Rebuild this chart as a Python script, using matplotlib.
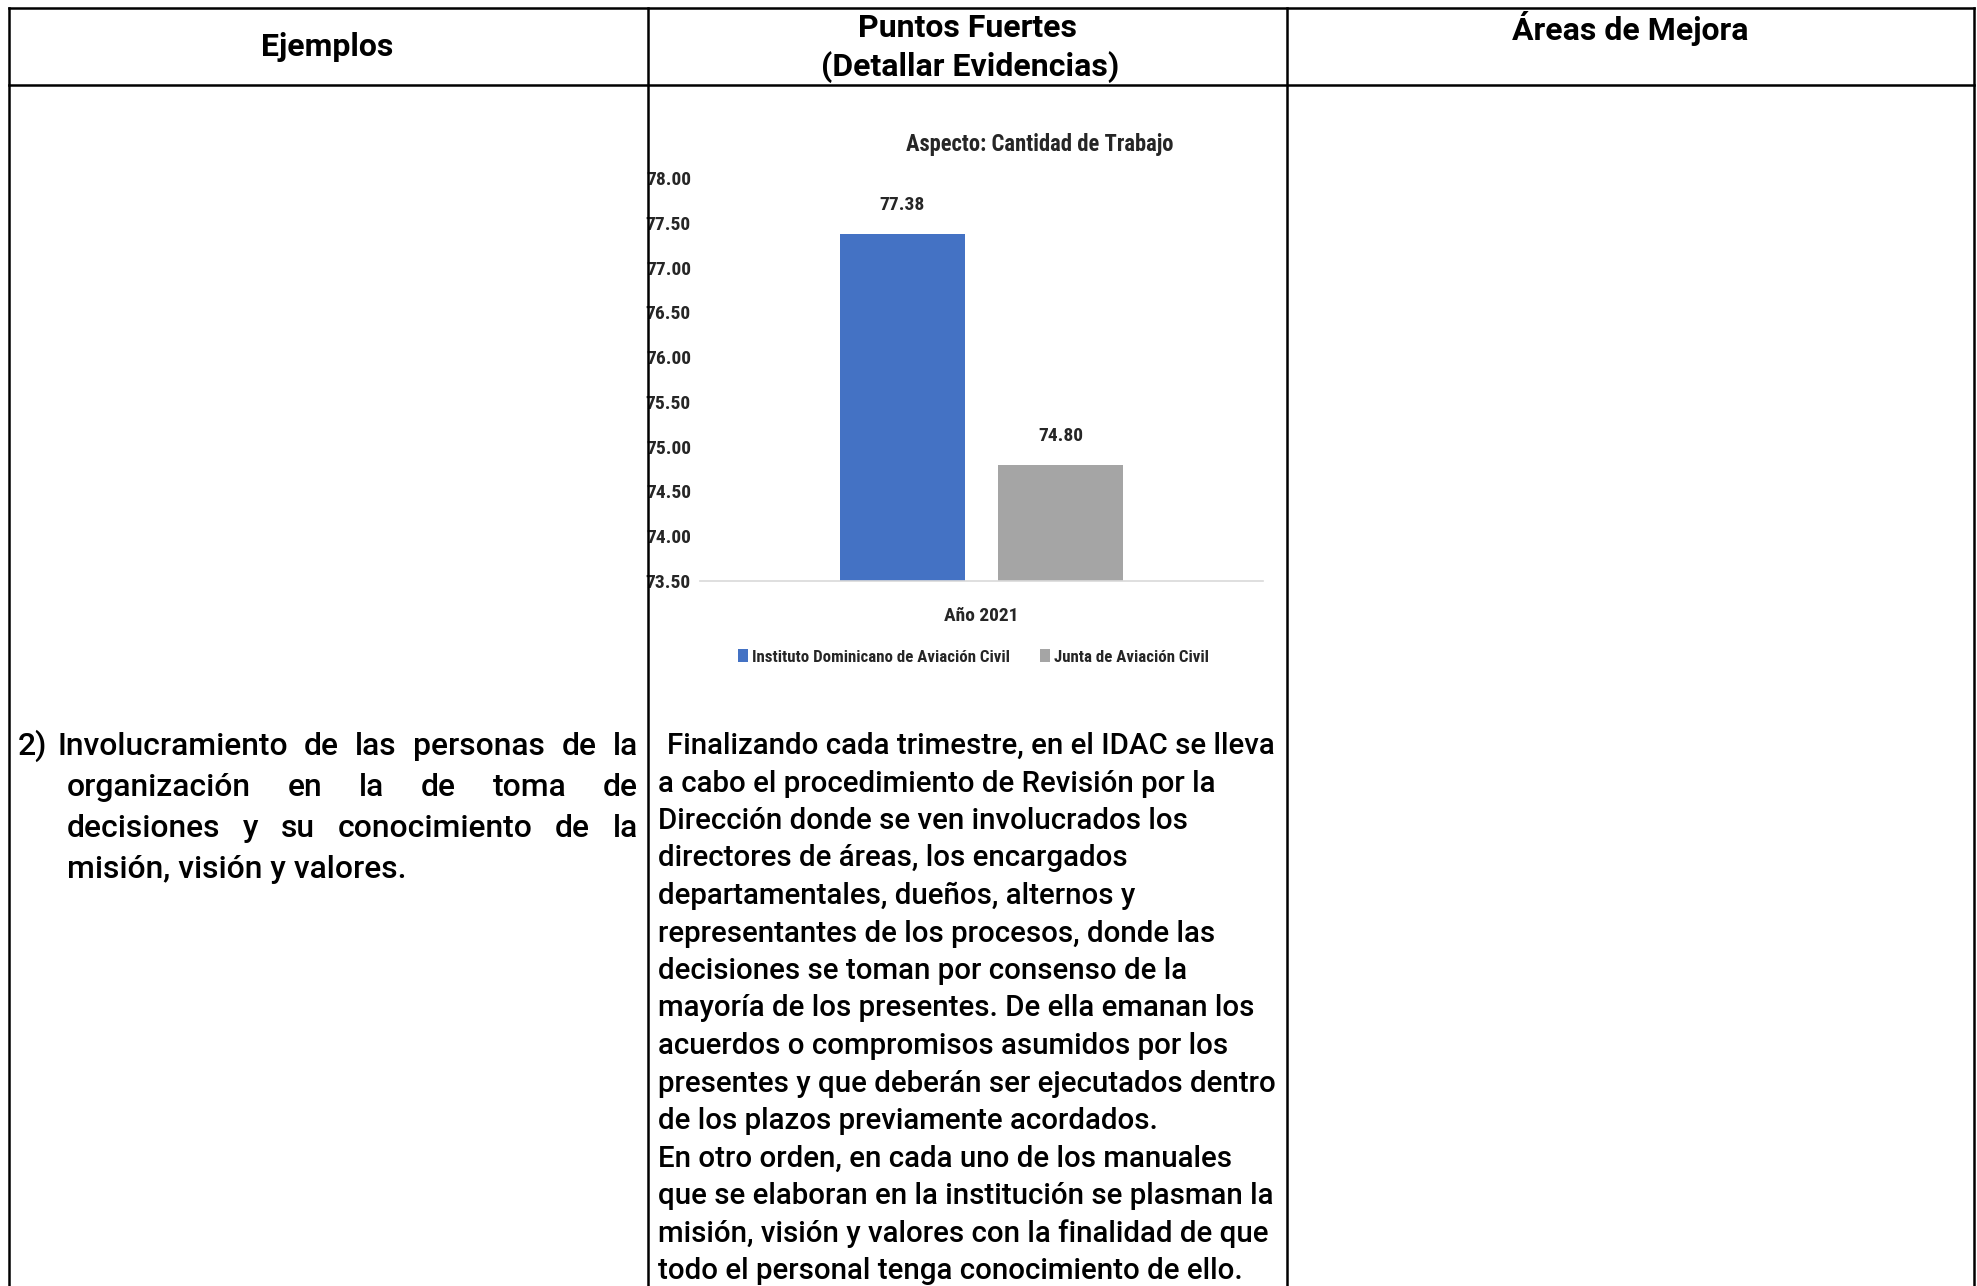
import os
import matplotlib
matplotlib.use('Agg')
import matplotlib.pyplot as plt
from matplotlib import font_manager as fm
from matplotlib.font_manager import FontProperties
from matplotlib.patches import Rectangle, Patch
from matplotlib.lines import Line2D

# ---------------- data ----------------
chart_title = 'Aspecto: Cantidad de Trabajo'
categories = ['Año 2021']
series_names = ['Instituto Dominicano de Aviación Civil', 'Junta de Aviación Civil']
series_values = [77.38, 74.80]
series_colors = ['#4472C4', '#A5A5A5']
y_ticks = [73.5, 74.0, 74.5, 75.0, 75.5, 76.0, 76.5, 77.0, 77.5, 78.0]
y_tick_labels = ['73.50', '74.00', '74.50', '75.00', '75.50', '76.00', '76.50', '77.00', '77.50', '78.00']

header_col1 = 'Ejemplos'
header_col2 = ['Puntos Fuertes', '(Detallar Evidencias)']
header_col3 = 'Áreas de Mejora'

left_lines = [
    '2) Involucramiento de las personas de la',
    'organización en la de toma de',
    'decisiones y su conocimiento de la',
    'misión, visión y valores.',
]
right_lines = [
    'Finalizando cada trimestre, en el IDAC se lleva',
    'a cabo el procedimiento de Revisión por la',
    'Dirección donde se ven involucrados los',
    'directores de áreas, los encargados',
    'departamentales, dueños, alternos y',
    'representantes de los procesos, donde las',
    'decisiones se toman por consenso de la',
    'mayoría de los presentes. De ella emanan los',
    'acuerdos o compromisos asumidos por los',
    'presentes y que deberán ser ejecutados dentro',
    'de los plazos previamente acordados.',
    'En otro orden, en cada uno de los manuales',
    'que se elaboran en la institución se plasman la',
    'misión, visión y valores con la finalidad de que',
    'todo el personal tenga conocimiento de ello.',
]

# ---------------- fonts ----------------
all_files = set(fm.findSystemFonts()) | {f.fname for f in fm.fontManager.ttflist}
by_base = {os.path.basename(f).lower(): f for f in all_files}


def pick(cands):
    for c in cands:
        if c.lower() in by_base:
            return by_base[c.lower()]
    return None


cond_file = pick(['LiberationSansNarrow-Bold.ttf', 'RobotoCondensed-Bold.ttf', 'RobotoCondensed-SemiBold.ttf',
                  'OpenSans_Condensed-Bold.ttf', 'OpenSansCondensed-Bold.ttf', 'OpenSans-CondensedBold.ttf',
                  'NotoSans-CondensedBold.ttf', 'DejaVuSansCondensed-Bold.ttf', 'LiberationSans-Bold.ttf'])


def chfp(size):
    if cond_file:
        return FontProperties(fname=cond_file, size=size)
    return FontProperties(family='DejaVu Sans', weight='bold', stretch='condensed', size=size)


names = {f.name for f in fm.fontManager.ttflist}
BODY = dict(family='Roboto', weight='medium') if 'Roboto' in names else dict(family='DejaVu Sans')
HEAD = dict(family='Roboto', weight='bold') if 'Roboto' in names else dict(family='DejaVu Sans', weight='bold')

W, H = 1977, 1286
fig = plt.figure(figsize=(W / 100, H / 100), dpi=100)
fig.patch.set_facecolor('white')
r = fig.canvas.get_renderer()

bg = fig.add_axes([0, 0, 1, 1])
bg.set_xlim(0, W)
bg.set_ylim(H, 0)
bg.axis('off')


def fit_size(s, target_w, font, base=20):
    t = bg.text(0, 0, s, fontsize=base, **font)
    w = t.get_window_extent(r).width
    t.remove()
    return base * target_w / w


def fit_ch(s, target_w, base=20):
    t = bg.text(0, 0, s, fontproperties=chfp(base))
    w = t.get_window_extent(r).width
    t.remove()
    return base * target_w / w


# ---------------- chart ----------------
TXT = '#262626'
ax_l, ax_r, ax_t, ax_b = 700, 1263, 178, 581
ax = fig.add_axes([ax_l / W, 1 - ax_b / H, (ax_r - ax_l) / W, (ax_b - ax_t) / H])
ax.set_ylim(y_ticks[0], y_ticks[-1])
ax.set_xlim(-0.5, 0.5)
offsets = [-0.141, 0.141]
bw = 0.222
tick_fs = 14
for i, (nm, v, c) in enumerate(zip(series_names, series_values, series_colors)):
    b = ax.bar([k + offsets[i] for k in range(len(categories))], [v], width=bw, color=c, label=nm, zorder=2)
    ax.bar_label(b, labels=['%.2f' % v], padding=14, color=TXT, fontproperties=chfp(tick_fs))
for s in ['top', 'right', 'left']:
    ax.spines[s].set_visible(False)
ax.spines['bottom'].set_color('#d9d9d9')
ax.spines['bottom'].set_linewidth(1.2)
ax.set_yticks(y_ticks)
ax.set_yticklabels(y_tick_labels, color=TXT, fontproperties=chfp(tick_fs))
ax.set_xticks(range(len(categories)))
ax.set_xticklabels(categories, color=TXT, fontproperties=chfp(tick_fs))
ax.tick_params(axis='y', length=0, pad=6.5)
ax.tick_params(axis='x', length=0, pad=18.5)
ax.set_facecolor('white')

title_fs = min(fit_ch(chart_title, 268), 21)
fig.text(1040 / W, 1 - 144 / H, chart_title, ha='center', va='center', color=TXT, fontproperties=chfp(title_fs))

leg_fs = min(fit_ch(series_names[0], 258), 15)
handles = [Patch(facecolor=c, edgecolor='none') for c in series_colors]
leg = fig.legend(handles, series_names, loc='center', bbox_to_anchor=(973.5 / W, 1 - 657 / H), ncol=2,
                 frameon=False, handlelength=0.55, handleheight=0.8,
                 handletextpad=0.25, columnspacing=1.8, borderpad=0,
                 prop=chfp(leg_fs))
for t in leg.get_texts():
    t.set_color(TXT)

# cover chart overflow into left column
fig.patches.append(Rectangle((12 / W, 1 - 680 / H), (646 - 12) / W, (680 - 88) / H,
                             transform=fig.transFigure, facecolor='white', edgecolor='none', zorder=5))

# ---------------- table lines ----------------
lw = 1.8
lines = [
    ((9, 1974), (8, 8)),
    ((9, 1974), (85, 85)),
    ((9, 9), (8, H)),
    ((648, 648), (8, H)),
    ((1287, 1287), (8, H)),
    ((1974, 1974), (8, H)),
]
for xs, ys in lines:
    fig.lines.append(Line2D([x / W for x in xs], [1 - y / H for y in ys], transform=fig.transFigure,
                            color='black', lw=lw, zorder=6))

# ---------------- headers ----------------
head_fs = fit_size(header_col2[1], 297, HEAD)
bg.text(327, 47, header_col1, ha='center', va='center', fontsize=head_fs, color='black', **HEAD)
bg.text(967, 28, header_col2[0], ha='center', va='center', fontsize=head_fs, color='black', **HEAD)
bg.text(970, 67, header_col2[1], ha='center', va='center', fontsize=head_fs, color='black', **HEAD)
bg.text(1630, 28, header_col3, ha='center', va='center', fontsize=head_fs, color='black', **HEAD)

# ---------------- left column (justified) ----------------
left_fs = fit_size(left_lines[3], 340, BODY)
left_base = [755, 796, 837, 878]
left_x0 = [18, 67, 67, 67]
right_edge = 638
for i, (line, yb, x0) in enumerate(zip(left_lines, left_base, left_x0)):
    words = line.split(' ')
    if i < 3:
        texts = [bg.text(0, yb, w, fontsize=left_fs, va='baseline', color='black', **BODY) for w in words]
        widths = [t.get_window_extent(r).width for t in texts]
        if i == 0:
            texts[0].set_x(x0)
            start = 57
            rest_t, rest_w = texts[1:], widths[1:]
        else:
            start = x0
            rest_t, rest_w = texts, widths
        gap = (right_edge - start - sum(rest_w)) / (len(rest_w) - 1)
        x = start
        for t, w in zip(rest_t, rest_w):
            t.set_x(x)
            x += w + gap
    else:
        bg.text(x0, yb, line, fontsize=left_fs, va='baseline', color='black', **BODY)

# ---------------- right column ----------------
right_fs = fit_size(right_lines[9], 619, BODY)
y0 = 754
step = 37.5
for i, line in enumerate(right_lines):
    x = 667 if i == 0 else 658
    bg.text(x, y0 + i * step, line, fontsize=right_fs, va='baseline', color='black', **BODY)

fig.savefig('out.png', dpi=100, facecolor='white')
